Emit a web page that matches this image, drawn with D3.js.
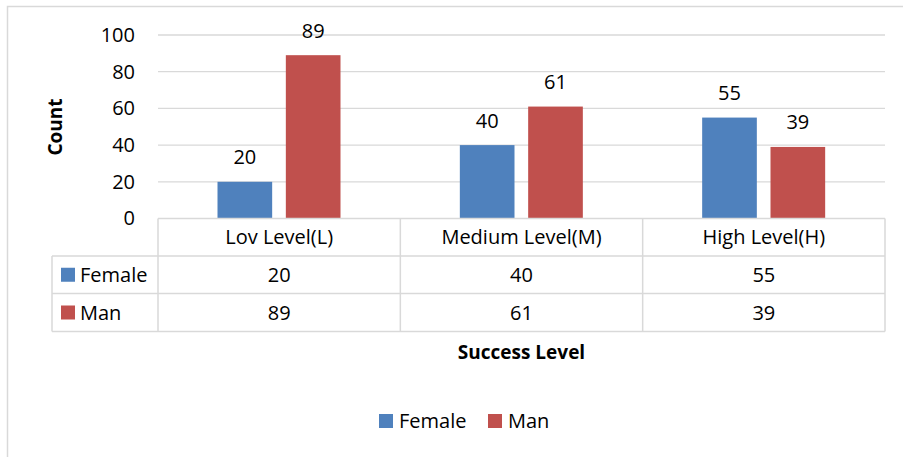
<!DOCTYPE html>
<html><head><meta charset="utf-8">
<script src="https://cdn.jsdelivr.net/npm/d3@7"></script>
<style>body{margin:0;background:#fff}svg{display:block}text{font-family:"Open Sans",sans-serif}</style>
</head><body>
<script>
const categories = ["Lov Level(L)", "Medium Level(M)", "High Level(H)"];
const seriesNames = ["Female", "Man"];
const female = [20, 40, 55];
const man = [89, 61, 39];
const yTicks = [0, 20, 40, 60, 80, 100];
const colors = ["#4F81BD", "#C0504D"];
const values = [female, man];

(function () {
const W = 903, H = 457;
const svg = d3.select("body").append("svg").attr("width", W).attr("height", H);

// outer frame
svg.append("rect").attr("x", 7.5).attr("y", 6.5).attr("width", 1000).attr("height", 1000)
  .attr("fill", "none").attr("stroke", "#d9d9d9").attr("stroke-width", 1.5);

const pLeft = 158, pRight = 885, pTop = 35, pBottom = 218.5;
const x0 = d3.scaleBand().domain(categories).range([pLeft, pRight]).padding(0);
const x1 = d3.scaleBand().domain(seriesNames).range([59.5, 182.5]).paddingInner(0.2).paddingOuter(0);
const y = d3.scaleLinear().domain([0, 100]).range([pBottom, pTop]);

// gridlines
svg.append("g").selectAll("line").data(yTicks.filter(d => d > 0)).join("line")
  .attr("x1", pLeft).attr("x2", pRight).attr("y1", d => y(d)).attr("y2", d => y(d))
  .attr("stroke", "#d9d9d9").attr("stroke-width", 1.3);

// y axis labels
const yAxis = d3.axisLeft(y).tickValues(yTicks).tickSize(0).tickPadding(0);
const ga = svg.append("g").attr("transform", `translate(135,0)`).call(yAxis);
ga.select(".domain").remove();
ga.selectAll("text").attr("font-size", 20).attr("fill", "#000").attr("font-family", '"Open Sans",sans-serif');

// bars
const groups = svg.append("g").selectAll("g").data(categories).join("g")
  .attr("transform", d => `translate(${x0(d)},0)`);
groups.selectAll("rect").data((c, i) => seriesNames.map((s, j) => ({s, v: values[j][i], j})))
  .join("rect")
  .attr("x", d => x1(d.s)).attr("width", x1.bandwidth())
  .attr("y", d => y(d.v)).attr("height", d => y(0) - y(d.v))
  .attr("fill", d => colors[d.j]);
groups.selectAll("text").data((c, i) => seriesNames.map((s, j) => ({s, v: values[j][i], j})))
  .join("text")
  .attr("x", d => x1(d.s) + x1.bandwidth() / 2)
  .attr("y", d => y(d.v) - 17.5)
  .attr("text-anchor", "middle").attr("font-size", 20).attr("fill", "#000")
  .text(d => d.v);

// y title
svg.append("text").attr("transform", "translate(62,127) rotate(-90)")
  .attr("text-anchor", "middle").attr("font-size", 19).attr("font-weight", "bold").text("Count");

// data table
const tableLeft = 52;
const rowY = [218.5, 256, 293.5, 331.5];
const tg = svg.append("g").attr("stroke", "#d9d9d9").attr("stroke-width", 1.5);
tg.append("line").attr("x1", pLeft).attr("x2", pRight).attr("y1", rowY[0]).attr("y2", rowY[0]);
[1, 2, 3].forEach(i => tg.append("line").attr("x1", tableLeft).attr("x2", pRight).attr("y1", rowY[i]).attr("y2", rowY[i]));
tg.append("line").attr("x1", tableLeft).attr("x2", tableLeft).attr("y1", rowY[1]).attr("y2", rowY[3]);
[pLeft, ...categories.map(c => x0(c) + x0.bandwidth())].forEach(xx =>
  tg.append("line").attr("x1", xx).attr("x2", xx).attr("y1", rowY[0]).attr("y2", rowY[3]));

// header texts
svg.append("g").selectAll("text").data(categories).join("text")
  .attr("x", d => x0(d) + x0.bandwidth() / 2).attr("y", (rowY[0] + rowY[1]) / 2 + 7)
  .attr("text-anchor", "middle").attr("font-size", 20).attr("fill", "#000").text(d => d);

// rows
seriesNames.forEach((s, j) => {
  const cy = (rowY[j + 1] + rowY[j + 2]) / 2;
  svg.append("rect").attr("x", 61).attr("y", cy - 7).attr("width", 14).attr("height", 14).attr("fill", colors[j]);
  svg.append("text").attr("x", 80).attr("y", cy + 7).attr("font-size", 20).attr("fill", "#000").text(s);
  svg.append("g").selectAll("text").data(categories).join("text")
    .attr("x", d => x0(d) + x0.bandwidth() / 2).attr("y", cy + 7)
    .attr("text-anchor", "middle").attr("font-size", 20).attr("fill", "#000")
    .text((d, i) => values[j][i]);
});

// x title
svg.append("text").attr("x", (pLeft + pRight) / 2).attr("y", 359)
  .attr("text-anchor", "middle").attr("font-size", 19).attr("font-weight", "bold").text("Success Level");

// legend
const legX = [379, 488];
seriesNames.forEach((s, j) => {
  svg.append("rect").attr("x", legX[j]).attr("y", 414).attr("width", 14).attr("height", 14).attr("fill", colors[j]);
  svg.append("text").attr("x", legX[j] + 20).attr("y", 428).attr("font-size", 20).attr("fill", "#000").text(s);
});
})();
</script>
</body></html>
